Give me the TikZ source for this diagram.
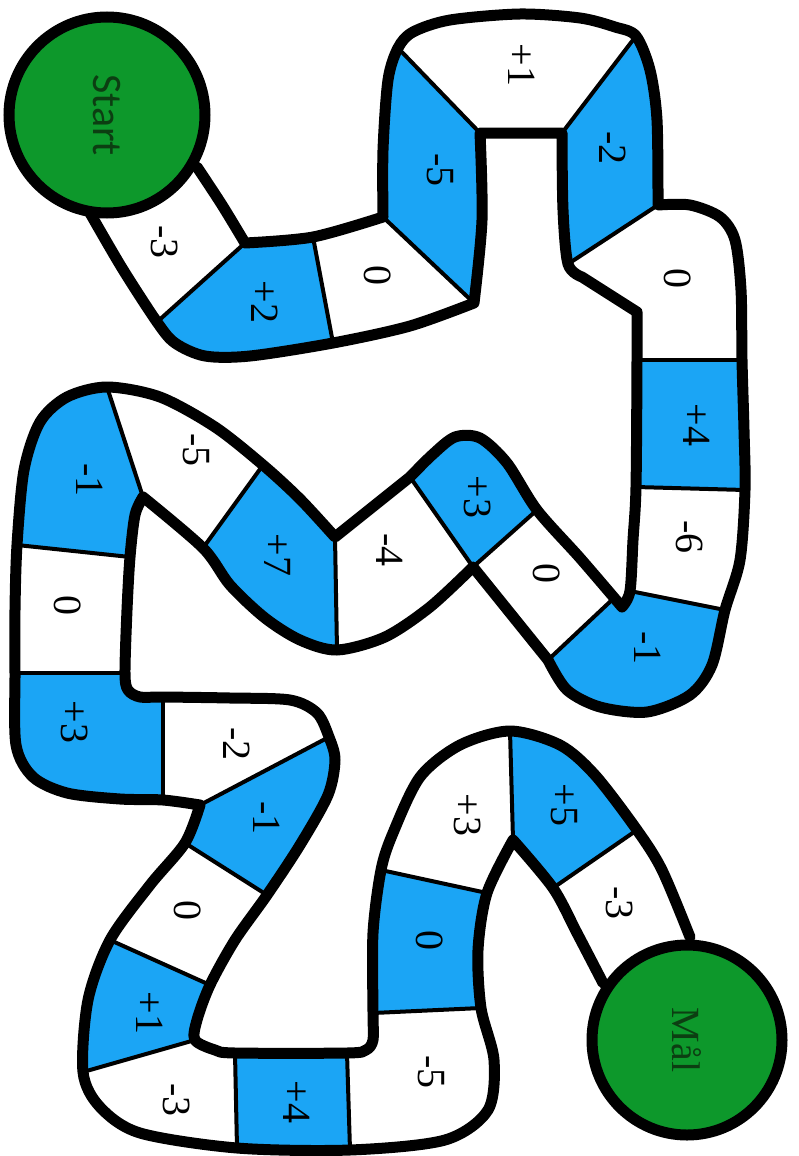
\documentclass[tikz,border=0pt]{standalone}
\usepackage{fontspec}
\setmainfont{Liberation Serif}
\newfontfamily\numfont{Liberation Serif}
\newfontfamily\startfont{Carlito}
\definecolor{cellblue}{RGB}{27,165,245}
\definecolor{goalgreen}{RGB}{13,152,43}
\definecolor{textgreen}{RGB}{12,62,18}
\begin{document}
\begin{tikzpicture}[x=1pt,y=-1pt,
  edge/.style={line width=11pt, line join=round, line cap=round},
  divider/.style={line width=4pt},
  bluecell/.style={fill=cellblue},
  num/.style={font=\numfont\fontsize{40}{48}\selectfont, rotate=-90, inner sep=0pt},
  goal/.style={circle, fill=goalgreen, draw=black, line width=11pt, inner sep=0pt, text=textgreen}]
\useasboundingbox (0,0) rectangle (798,1156);

% blue cells
\fill[bluecell] plot[smooth] coordinates {(157,322) (175,343) (205,356) (250,356) (333,343)} -- (313,237) -- (245,243) -- cycle;
\fill[bluecell] plot[smooth] coordinates {(474,303) (482,220) (480,133)} -- plot[smooth] coordinates {(398,48) (388,80) (383,150) (383,217)} -- cycle;
\fill[bluecell] plot[smooth] coordinates {(562,133) (563,210) (568,264)} -- plot[smooth] coordinates {(658,205) (657,120) (650,70) (636,36)} -- cycle;
\fill[bluecell] (637,360) -- (636,487) -- (745,490) -- (742,360) -- cycle;
\fill[bluecell] (630,591) -- (622,607) -- (614,598) -- plot[smooth] coordinates {(548,660) (567,690) (600,707) (647,712) (690,695) (712,665) (725,610)} -- cycle;
\fill[bluecell] (473,567) -- plot[smooth] coordinates {(537,510) (507,463) (480,438) (455,437) (432,455) (410,477)} -- cycle;
\fill[bluecell] plot[smooth] coordinates {(335,537) (300,499) (263,465)} -- plot[smooth] coordinates {(203,548) (230,585) (265,618) (300,640) (337,650)} -- cycle;
\fill[bluecell] plot[smooth] coordinates {(107,387) (67,397) (40,422) (24,470) (17,545)} -- plot[smooth] coordinates {(130,557) (135,515) (143,497)} -- cycle;
\fill[bluecell] plot[smooth] coordinates {(15,673) (16,745) (33,777) (67,793) (120,799) (163,800)} -- plot[smooth] coordinates {(163,697) (140,697) (128,690) (125,673)} -- cycle;
\fill[bluecell] (200,805) -- (185,843) -- plot[smooth] coordinates {(267,895) (300,845) (328,795) (335,760) (329,737)} -- cycle;
\fill[bluecell] plot[smooth] coordinates {(110,940) (88,1000) (83,1072)} -- plot[smooth] coordinates {(195,1040) (197,1020) (210,985)} -- cycle;
\fill[bluecell] (237,1148) -- (350,1150) -- (347,1053) -- (235,1053) -- cycle;
\fill[bluecell] plot[smooth] coordinates {(481,1008) (478,950) (487,893)} -- plot[smooth] coordinates {(381,870) (373,933) (373,1013)} -- cycle;
\fill[bluecell] (513,840) -- (553,888) -- plot[smooth] coordinates {(637,830) (595,775) (560,745) (510,731)} -- cycle;

% dividers
\draw[divider] (157,322) -- (245,243);
\draw[divider] (333,343) -- (313,237);
\draw[divider] (474,303) -- (383,217);
\draw[divider] (480,133) -- (398,48);
\draw[divider] (562,133) -- (636,36);
\draw[divider] (568,264) -- (658,205);
\draw[divider] (637,360) -- (742,360);
\draw[divider] (636,487) -- (745,490);
\draw[divider] (630,591) -- (725,610);
\draw[divider] (614,598) -- (548,660);
\draw[divider] (537,510) -- (473,567);
\draw[divider] (410,477) -- (473,567);
\draw[divider] (335,537) -- (337,650);
\draw[divider] (263,465) -- (203,548);
\draw[divider] (107,387) -- (143,497);
\draw[divider] (17,545) -- (130,557);
\draw[divider] (15,673) -- (125,673);
\draw[divider] (163,800) -- (163,697);
\draw[divider] (200,805) -- (329,737);
\draw[divider] (185,843) -- (267,895);
\draw[divider] (110,940) -- (210,985);
\draw[divider] (83,1072) -- (195,1040);
\draw[divider] (237,1148) -- (235,1053);
\draw[divider] (350,1150) -- (347,1053);
\draw[divider] (481,1008) -- (373,1013);
\draw[divider] (487,893) -- (381,870);
\draw[divider] (513,840) -- (510,731);
\draw[divider] (553,888) -- (637,830);

% side A
\draw[edge] plot[smooth] coordinates {(90,213) (122,268) (157,322) (175,343) (205,356) (250,356) (333,343) (410,326) (474,303)}
 -- plot[smooth] coordinates {(474,303) (482,220) (480,133)}
 -- (562,133)
 -- plot[smooth] coordinates {(562,133) (563,210) (568,264) (582,277)}
 -- (637,312)
 -- plot[smooth] coordinates {(637,312) (637,360) (636,487) (633,540) (630,591) (622,607)}
 -- plot[smooth] coordinates {(622,607) (580,558) (537,510) (507,463) (480,438) (455,437) (432,455) (410,477)}
 -- (335,537)
 -- plot[smooth] coordinates {(335,537) (300,499) (263,465) (215,427) (160,397) (107,387) (67,397) (40,422) (24,470) (17,545) (15,610) (15,673) (16,745) (33,777) (67,793) (120,799) (163,800) (200,805)}
 -- plot[smooth] coordinates {(200,805) (185,843) (150,885) (110,940) (88,1000) (83,1072) (100,1107) (140,1133) (237,1148) (350,1150) (445,1140) (488,1110) (494,1060) (481,1008) (478,950) (487,893) (513,840)}
 -- plot[smooth] coordinates {(513,840) (553,888) (577,933) (603,983)};

% side B
\draw[edge] plot[smooth] coordinates {(197,167) (222,205) (245,243)}
 -- plot[smooth] coordinates {(245,243) (313,237) (383,217)}
 -- plot[smooth] coordinates {(383,217) (383,150) (388,80) (398,48) (413,32) (450,20) (520,14) (580,18) (615,27) (636,36) (650,70) (657,120) (658,205)}
 -- plot[smooth] coordinates {(658,205) (690,205) (720,217) (735,240) (741,290) (742,360) (744,430) (745,490) (740,560) (725,610) (712,665) (690,695) (647,712) (600,707) (567,690) (548,660)}
 -- (473,567)
 -- plot[smooth] coordinates {(473,567) (430,607) (385,637) (337,650) (300,640) (265,618) (230,585) (203,548) (143,497)}
 -- plot[smooth] coordinates {(143,497) (135,515) (130,557) (127,610) (125,673) (128,690) (140,697) (163,697) (230,698) (290,700) (317,713) (329,737) (335,760) (328,795) (300,845) (267,895) (235,940) (210,985) (197,1020) (195,1040) (215,1050) (235,1053) (347,1053) (366,1050) (373,1040) (373,1013) (373,933) (381,870) (393,833) (420,777) (460,745) (510,731) (560,745) (595,775) (637,830) (662,870) (690,937)};

% start and goal
\node[goal, minimum size=196pt] (start) at (107,115) {\rotatebox{-90}{\startfont\fontsize{42}{50}\selectfont Start}};
\node[goal, minimum size=190pt] (maal) at (687,1040) {\rotatebox{-90}{\numfont\fontsize{40}{48}\selectfont Mål}};

% numbers
\node[num] (t1) at (165,242) {-3};
\node[num] (t2) at (265,302) {+2};
\node[num] (t3) at (378,275) {0};
\node[num] (t4) at (440,170) {-5};
\node[num] (t5) at (522,65) {+1};
\node[num] (t6) at (613,148) {-2};
\node[num] (t7) at (678,278) {0};
\node[num] (t8) at (697,425) {+4};
\node[num] (t9) at (690,537) {-6};
\node[num] (t10) at (648,648) {-1};
\node[num] (t11) at (547,573) {0};
\node[num] (t12) at (478,497) {+3};
\node[num] (t13) at (390,550) {-4};
\node[num] (t14) at (278,555) {+7};
\node[num] (t15) at (196,450) {-5};
\node[num] (t16) at (90,480) {-1};
\node[num] (t17) at (68,605) {0};
\node[num] (t18) at (75,722) {+3};
\node[num] (t19) at (237,744) {-2};
\node[num] (t20) at (267,818) {-1};
\node[num] (t21) at (188,910) {0};
\node[num] (t22) at (150,1013) {+1};
\node[num] (t23) at (177,1100) {-3};
\node[num] (t24) at (297,1102) {+4};
\node[num] (t25) at (431,1072) {-5};
\node[num] (t26) at (430,940) {0};
\node[num] (t27) at (468,815) {+3};
\node[num] (t28) at (564,805) {+5};
\node[num] (t29) at (620,903) {-3};
\end{tikzpicture}
\end{document}
